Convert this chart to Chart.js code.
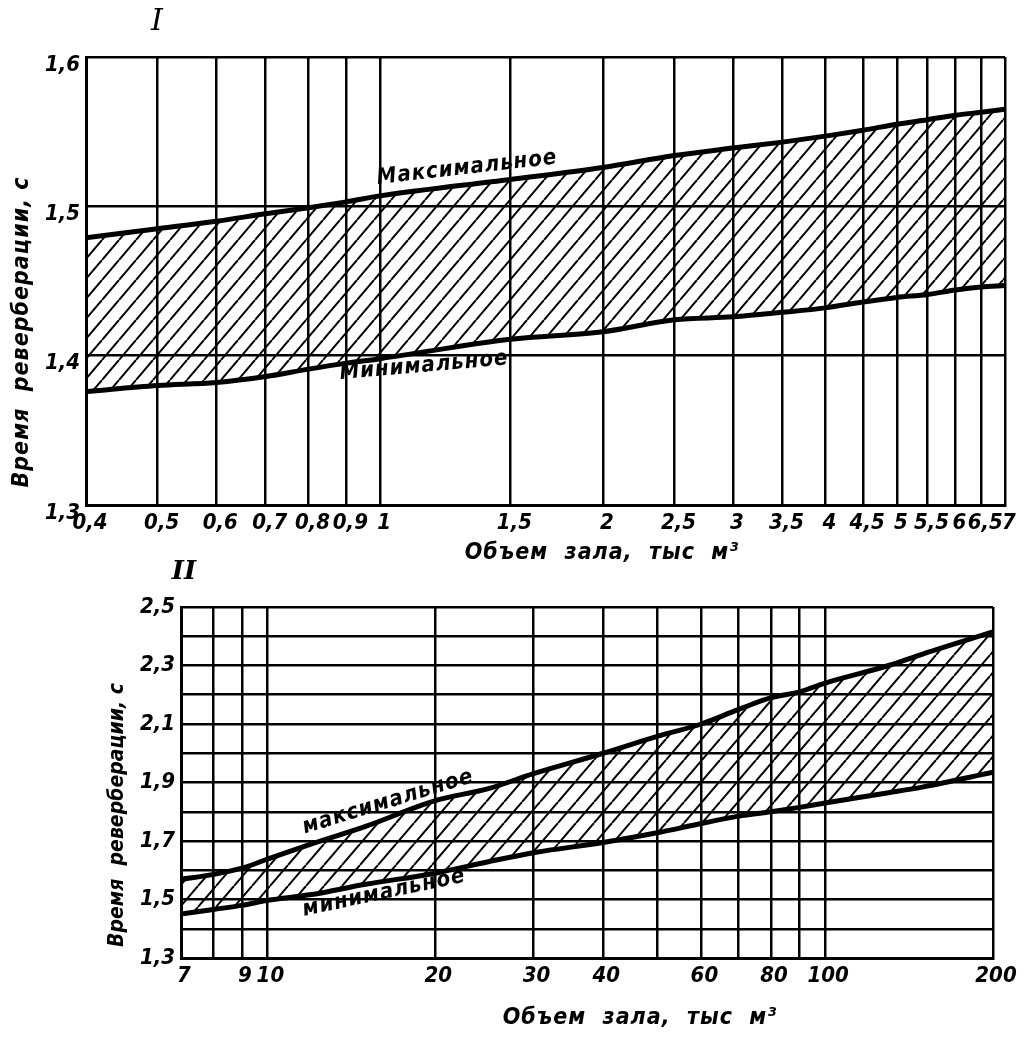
<!DOCTYPE html>
<html>
<head>
<meta charset="utf-8">
<script src="https://cdn.jsdelivr.net/npm/chart.js@4.4.1/dist/chart.umd.min.js"></script>
<style>
  body { margin: 0; background: #fff; }
  #wrap { position: relative; width: 1027px; height: 1041px; }
  canvas { position: absolute; left: 0; }
  #top { top: 0; }
  #bottom { top: 550px; }
</style>
</head>
<body>
<div id="wrap">
  <canvas id="top" width="1027" height="600"></canvas>
  <canvas id="bottom" width="1027" height="491"></canvas>
</div>
<script>
// panel I: volume 0.4 - 7 thousand m3
const topVolume = [0.4, 0.5, 0.6, 0.7, 0.8, 0.9, 1, 1.5, 2, 2.5, 3, 3.5, 4, 4.5, 5, 5.5, 6, 6.5, 7];
const topMax = [1.479, 1.485, 1.49, 1.495, 1.499, 1.503, 1.507, 1.518, 1.526, 1.534, 1.539, 1.543, 1.547, 1.551, 1.555, 1.558, 1.561, 1.563, 1.565];
const topMin = [1.376, 1.38, 1.382, 1.386, 1.391, 1.395, 1.398, 1.411, 1.416, 1.424, 1.426, 1.429, 1.432, 1.436, 1.439, 1.441, 1.444, 1.446, 1.447];
const topXGrid = [0.4, 0.5, 0.6, 0.7, 0.8, 0.9, 1, 1.5, 2, 2.5, 3, 3.5, 4, 4.5, 5, 5.5, 6, 6.5, 7];
const topXLabels = topXGrid;
const topYGrid = [1.3, 1.4, 1.5, 1.6];
const topYLabels = topYGrid;

// panel II: volume 7 - 200 thousand m3
const bottomVolume = [7, 8, 9, 10, 12, 15, 20, 25, 30, 40, 50, 60, 70, 80, 90, 100, 130, 150, 200];
const bottomMax = [1.569, 1.586, 1.607, 1.638, 1.69, 1.75, 1.838, 1.88, 1.93, 2.0, 2.058, 2.1, 2.15, 2.19, 2.21, 2.24, 2.3, 2.34, 2.415];
const bottomMin = [1.45, 1.466, 1.48, 1.497, 1.517, 1.552, 1.59, 1.63, 1.66, 1.695, 1.728, 1.76, 1.785, 1.8, 1.815, 1.83, 1.865, 1.885, 1.935];
const bottomXGrid = [7, 8, 9, 10, 20, 30, 40, 50, 60, 70, 80, 90, 100, 200];
const bottomXLabels = [7, 9, 10, 20, 30, 40, 60, 80, 100, 200];
const bottomYGrid = [1.3, 1.4, 1.5, 1.6, 1.7, 1.8, 1.9, 2.0, 2.1, 2.2, 2.3, 2.4, 2.5];
const bottomYLabels = [1.3, 1.5, 1.7, 1.9, 2.1, 2.3, 2.5];

const FAM = "'DejaVu Sans Condensed', 'DejaVu Sans', sans-serif";
const comma = (v) => String(v).replace(".", ",");

// diagonal hatch
function hatch(w, h) {
  const c = document.createElement("canvas");
  c.width = w;
  c.height = h;
  const g = c.getContext("2d");
  g.strokeStyle = "#000";
  g.lineWidth = 2;
  [-w, 0, w].forEach((dx) => {
    g.beginPath();
    g.moveTo(dx, h);
    g.lineTo(dx + w, 0);
    g.stroke();
  });
  return g.createPattern(c, "repeat");
}

const notes = {
  id: "notes",
  afterDraw(chart, args, opts) {
    const ctx = chart.ctx;
    opts.items.forEach((it) => {
      ctx.save();
      ctx.font = it.font;
      ctx.fillStyle = "#000";
      ctx.textAlign = "center";
      ctx.textBaseline = "middle";
      if (it.spacing) ctx.letterSpacing = it.spacing;
      ctx.translate(it.x, it.y);
      ctx.rotate(((it.rot || 0) * Math.PI) / 180);
      ctx.fillText(it.text, 0, 0);
      ctx.restore();
    });
  },
};

function makeChart(id, cfg) {
  const pts = (xs, ys) => xs.map((x, i) => ({ x: x, y: ys[i] }));
  const tickFont = { family: FAM, size: 22, style: "italic", weight: "bold" };
  return new Chart(document.getElementById(id), {
    type: "line",
    data: {
      datasets: [
        {
          data: pts(cfg.vol, cfg.max),
          borderColor: "#000",
          borderWidth: 5,
          pointRadius: 0,
          cubicInterpolationMode: "monotone",
          fill: "+1",
          backgroundColor: hatch(cfg.hw, cfg.hh),
        },
        {
          data: pts(cfg.vol, cfg.min),
          borderColor: "#000",
          borderWidth: 5,
          pointRadius: 0,
          cubicInterpolationMode: "monotone",
          fill: false,
        },
      ],
    },
    options: {
      responsive: false,
      animation: false,
      devicePixelRatio: 1,
      layout: { padding: cfg.pad },
      plugins: {
        legend: { display: false },
        tooltip: { enabled: false },
        notes: { items: cfg.notes },
      },
      scales: {
        x: {
          type: "logarithmic",
          min: cfg.xGrid[0],
          max: cfg.xGrid[cfg.xGrid.length - 1],
          afterBuildTicks: (s) => {
            s.ticks = cfg.xGrid.map((v) => ({ value: v }));
          },
          afterFit: (s) => {
            s.height = cfg.xH;
          },
          grid: { color: "#000", lineWidth: 2.5, drawTicks: false },
          border: { color: "#000", width: 3 },
          ticks: {
            autoSkip: false,
            maxRotation: 0,
            padding: 5,
            labelOffset: cfg.xOff,
            color: "#000",
            font: tickFont,
            callback: (v) => (cfg.xLabels.includes(v) ? comma(v) : ""),
          },
        },
        y: {
          min: cfg.yGrid[0],
          max: cfg.yGrid[cfg.yGrid.length - 1],
          afterBuildTicks: (s) => {
            s.ticks = cfg.yGrid.map((v) => ({ value: v }));
          },
          afterFit: (s) => {
            s.width = cfg.yW;
          },
          grid: { color: "#000", lineWidth: 2.5, drawTicks: false },
          border: { color: "#000", width: 3 },
          ticks: {
            autoSkip: false,
            padding: 6,
            labelOffset: cfg.yOff,
            color: "#000",
            font: tickFont,
            callback: (v) => (cfg.yLabels.includes(v) ? comma(v) : ""),
          },
        },
      },
    },
    plugins: [notes],
  });
}

const titleFont = "italic bold 23px " + FAM;
const curveFont = "italic bold 22px " + FAM;

makeChart("top", {
  vol: topVolume, max: topMax, min: topMin,
  xGrid: topXGrid, xLabels: topXLabels, yGrid: topYGrid, yLabels: topYLabels,
  pad: { top: 57, right: 22, left: 0, bottom: 0 },
  yW: 86, xH: 95, xOff: 4, yOff: 8, hw: 17, hh: 20,
  notes: [
    { text: "I", x: 157, y: 22, font: "italic 30px 'DejaVu Serif', serif" },
    { text: "Время  реверберации, с", x: 22, y: 332, rot: -90, font: titleFont, spacing: "1px" },
    { text: "Объем  зала,  тыс  м³", x: 602, y: 553, font: titleFont, spacing: "1px" },
    { text: "Максимальное", x: 467, y: 168, rot: -6.5, font: curveFont, spacing: "1px" },
    { text: "Минимальное", x: 424, y: 366, rot: -5, font: curveFont, spacing: "1px" },
  ],
});

makeChart("bottom", {
  vol: bottomVolume, max: bottomMax, min: bottomMin,
  xGrid: bottomXGrid, xLabels: bottomXLabels, yGrid: bottomYGrid, yLabels: bottomYLabels,
  pad: { top: 57, right: 34, left: 0, bottom: 0 },
  yW: 181, xH: 83, xOff: 3, yOff: 0, hw: 18, hh: 21,
  notes: [
    { text: "II", x: 184, y: 22, font: "italic bold 26px 'DejaVu Serif', serif" },
    { text: "Время  реверберации, с", x: 118, y: 265, rot: -90, font: "italic bold 21px " + FAM },
    { text: "Объем  зала,  тыс  м³", x: 640, y: 468, font: titleFont, spacing: "1px" },
    { text: "максимальное", x: 388, y: 252, rot: -17, font: curveFont, spacing: "1px" },
    { text: "минимальное", x: 384, y: 343, rot: -12, font: curveFont, spacing: "1px" },
  ],
});
</script>
</body>
</html>
